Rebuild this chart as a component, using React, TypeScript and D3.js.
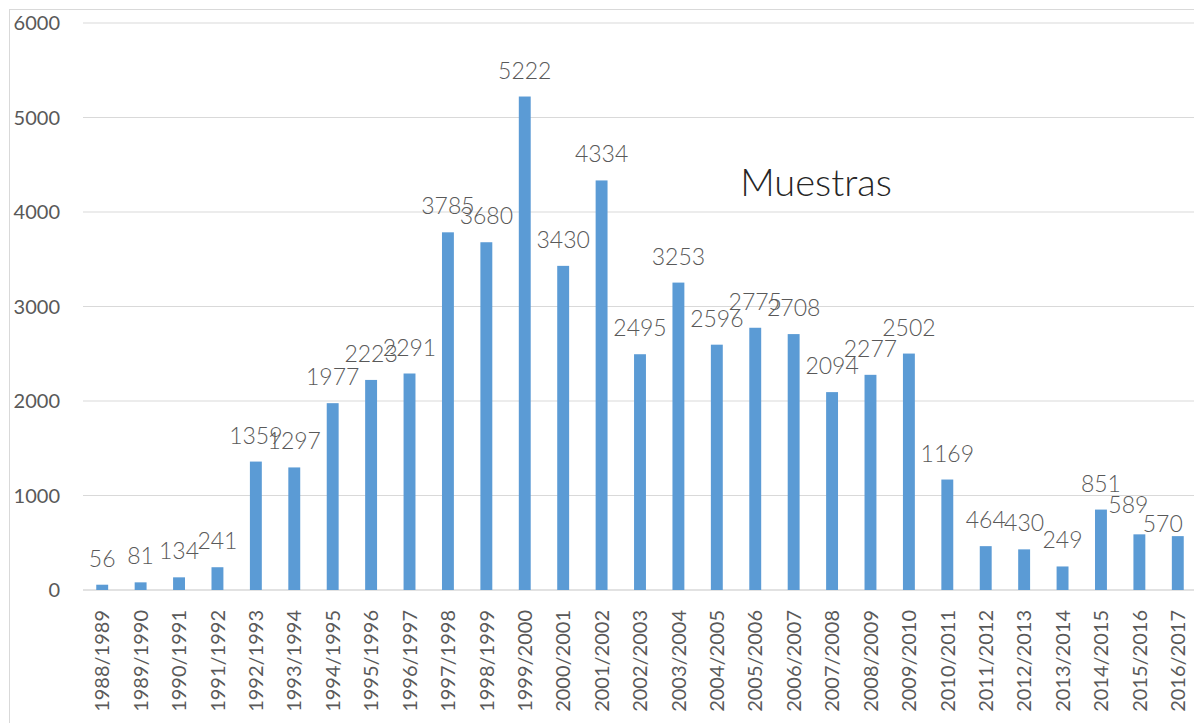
import React from 'react';
import * as d3 from 'd3';

const seasons = [
  '1988/1989', '1989/1990', '1990/1991', '1991/1992', '1992/1993', '1993/1994',
  '1994/1995', '1995/1996', '1996/1997', '1997/1998', '1998/1999', '1999/2000',
  '2000/2001', '2001/2002', '2002/2003', '2003/2004', '2004/2005', '2005/2006',
  '2006/2007', '2007/2008', '2008/2009', '2009/2010', '2010/2011', '2011/2012',
  '2012/2013', '2013/2014', '2014/2015', '2015/2016', '2016/2017'
];
const samples = [
  56, 81, 134, 241, 1359, 1297, 1977, 2223, 2291, 3785, 3680, 5222, 3430, 4334,
  2495, 3253, 2596, 2775, 2708, 2094, 2277, 2502, 1169, 464, 430, 249, 851, 589, 570
];
const yTicks = [0, 1000, 2000, 3000, 4000, 5000, 6000];
const title = 'Muestras';

const W = 1194;
const H = 723;
const font = 'Lato, "Open Sans", sans-serif';

export default function App() {
  const margin = { top: 23, right: -3, bottom: 133, left: 83 };

  const x = d3.scaleBand()
    .domain(seasons)
    .range([margin.left, W - margin.right])
    .paddingInner(0.69)
    .paddingOuter(0.345);

  const y = d3.scaleLinear()
    .domain([0, 6000])
    .range([H - margin.bottom, margin.top]);

  const bw = x.bandwidth();

  // excel pushed the last two labels inward so they stay inside the plot
  const nudge: Record<string, [number, number]> = {
    '2015/2016': [-11, -3],
    '2016/2017': [-15, 14],
  };

  return (
    <svg width={W} height={H} style={{ position: 'absolute', left: 0, top: 0 }}>
      <rect x={9.5} y={9.5} width={W + 20} height={H + 20} fill="#fff" stroke="#d9d9d9" />
      {yTicks.map(t => (
        <g key={t}>
          <line x1={margin.left} x2={W - margin.right} y1={y(t)} y2={y(t)}
                stroke="#d9d9d9" strokeWidth={t === 0 ? 1.5 : 1} />
          <text x={60} y={y(t)} dy="0.36em" textAnchor="end"
                fontFamily={font} fontSize={20} fill="#595959">{t}</text>
        </g>
      ))}
      {samples.map((v, i) => (
        <rect key={i} x={x(seasons[i])} y={y(v)} width={bw}
              height={y(0) - y(v)} fill="#5b9bd5" />
      ))}
      {samples.map((v, i) => {
        const [dx, dy] = nudge[seasons[i]] || [0, 0];
        return (
          <text key={'l' + i} x={(x(seasons[i]) as number) + bw / 2 + dx} y={y(v) - 18 + dy}
                textAnchor="middle" fontFamily={font} fontSize={23} fontWeight={300} fill="#595959">{v}</text>
        );
      })}
      {seasons.map(s => {
        const cx = (x(s) as number) + bw / 2;
        return (
          <text key={s} transform={`translate(${cx},610) rotate(-90)`}
                textAnchor="end" dy="0.36em" fontFamily={font} fontSize={20} fill="#595959">{s}</text>
        );
      })}
      <text x={816} y={196} textAnchor="middle" fontFamily={font} fontSize={38} fontWeight={300} fill="#262626">{title}</text>
    </svg>
  );
}
